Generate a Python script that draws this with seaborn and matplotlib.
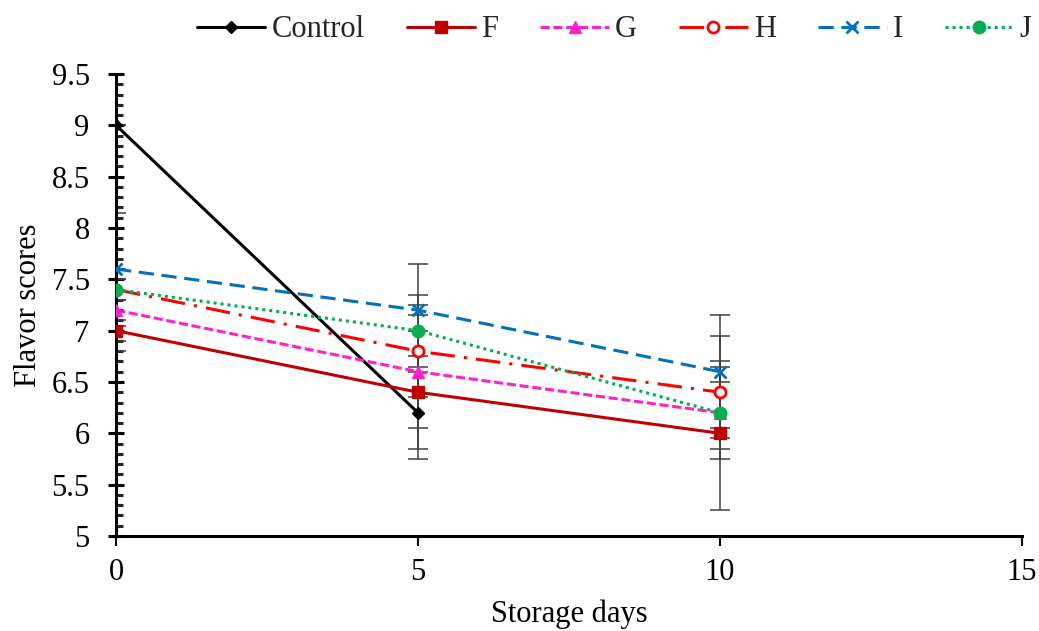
import numpy as np
import pandas as pd
import matplotlib
matplotlib.use("Agg")
import matplotlib.pyplot as plt
import seaborn as sns
from matplotlib.ticker import MultipleLocator

days = [0, 5, 10]
series_names = ["Control", "F", "G", "H", "I", "J"]
control_vals = [9.0, 6.2]
f_vals = [7.0, 6.4, 6.0]
g_vals = [7.2, 6.6, 6.2]
h_vals = [7.4, 6.8, 6.4]
i_vals = [7.6, 7.2, 6.6]
j_vals = [7.4, 7.0, 6.2]

control_err = [0.0, 0.45]
f_err = [0.1, 0.35, 0.05]
g_err = [0.4, 0.75, 0.45]
h_err = [0.1, 0.2, 0.55]
i_err = [0.55, 0.05, 0.1]
j_err = [0.1, 0.65, 0.95]

vals = [control_vals, f_vals, g_vals, h_vals, i_vals, j_vals]
errs = [control_err, f_err, g_err, h_err, i_err, j_err]

rows = []
for name, v, e in zip(series_names, vals, errs):
    for d, y, s in zip(days, v, e):
        rows.append({"series": name, "day": d, "score": y, "err": s})
df = pd.DataFrame(rows)

sns.set_style("white")
plt.rcParams["font.family"] = ["Liberation Serif", "DejaVu Serif"]

styles = {
    "Control": dict(color="#000000", marker="D", ms=6, dashes=(None, None), mfc="#000000"),
    "F": dict(color="#C00000", marker="s", ms=9, dashes=(None, None), mfc="#C00000"),
    "G": dict(color="#FF22CC", marker="^", ms=9, dashes=(3, 1.2), mfc="#FF22CC"),
    "H": dict(color="#FF0000", marker="o", ms=8, dashes=(8, 3, 1, 3), mfc="white"),
    "I": dict(color="#0070C0", marker="x", ms=8, dashes=(5, 2.5), mfc="#0070C0"),
    "J": dict(color="#00B050", marker="o", ms=9, dashes=(1, 1.3), mfc="#00B050"),
}

fig = plt.figure(figsize=(10.39, 6.31), dpi=100)
ax = fig.add_axes([0.1117, 0.1506, 0.8719, 0.7321])

# error bars first
for name in series_names:
    sub = df[df.series == name]
    ax.errorbar(sub.day, sub.score, yerr=sub.err, fmt="none", ecolor="#404040",
                elinewidth=1.1, capsize=7, capthick=1.1, zorder=2)

for name in series_names:
    sub = df[df.series == name]
    st = styles[name]
    sns.lineplot(data=sub, x="day", y="score", ax=ax, color=st["color"],
                 marker=st["marker"], markersize=st["ms"], linewidth=2.2,
                 markerfacecolor=st["mfc"], markeredgecolor=st["color"],
                 markeredgewidth=2.0 if name in ("H", "I") else 1.0,
                 label=name, errorbar=None, zorder=3)
    line = ax.get_lines()[-1]
    if st["dashes"][0] is not None:
        line.set_dashes(st["dashes"])

ax.set_xlim(0, 15)
ax.set_ylim(5, 9.5)
ax.xaxis.set_major_locator(MultipleLocator(5))
ax.yaxis.set_major_locator(MultipleLocator(0.5))
ax.yaxis.set_minor_locator(MultipleLocator(0.1))
ax.set_yticks(np.arange(5, 9.51, 0.5))
ax.set_yticklabels(["5", "5.5", "6", "6.5", "7", "7.5", "8", "8.5", "9", "9.5"])

for s in ["top", "right"]:
    ax.spines[s].set_visible(False)
for s in ["left", "bottom"]:
    ax.spines[s].set_color("black")
    ax.spines[s].set_linewidth(2.2)

ax.tick_params(axis="y", which="major", direction="inout", length=12, width=2.2,
               labelsize=22, colors="black", left=True, pad=13)
ax.tick_params(axis="y", which="minor", direction="in", length=5, width=2.2,
               left=True)
ax.tick_params(axis="x", which="major", direction="out", length=7, width=1.5,
               labelsize=22, colors="black", bottom=True, pad=9)

ax.set_xlabel("Storage days", fontsize=22, color="black", labelpad=9)
ax.set_ylabel("Flavor scores", fontsize=22, color="black", labelpad=6)

handles, labels = ax.get_legend_handles_labels()
ax.legend(handles, labels, loc="upper center", bbox_to_anchor=(0.591, 0.995),
          bbox_transform=fig.transFigure, ncol=6, frameon=False, fontsize=22,
          handlelength=2.25, columnspacing=1.37, handletextpad=0.2, borderaxespad=0.0)

fig.savefig("out.png", dpi=100)
